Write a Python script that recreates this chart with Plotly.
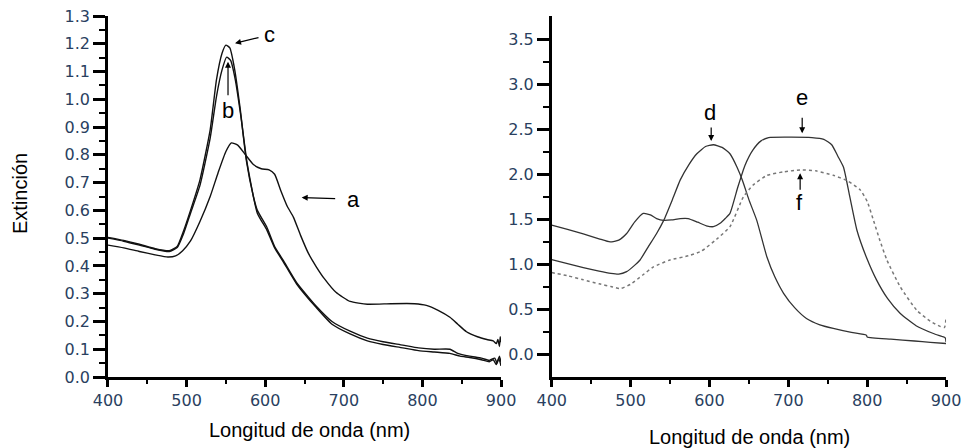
import plotly.graph_objects as go

# ---- Left panel (Extinción vs Longitud de onda) ----
a_x = [400, 420, 440, 460, 476, 486, 495, 505, 517, 530, 540, 550, 557, 565, 575, 585, 595, 605, 612,
       620, 628, 636, 645, 655, 665, 675, 690, 708, 730, 760, 790, 805, 820, 835, 845, 856, 870, 882,
       890, 894, 896, 898, 899, 900]
a_y = [0.475, 0.465, 0.452, 0.440, 0.432, 0.436, 0.455, 0.490, 0.560, 0.650, 0.735, 0.812, 0.843, 0.835,
       0.800, 0.765, 0.750, 0.746, 0.730, 0.670, 0.615, 0.575, 0.510, 0.445, 0.397, 0.355, 0.305, 0.272,
       0.262, 0.264, 0.264, 0.258, 0.240, 0.215, 0.190, 0.163, 0.145, 0.135, 0.130, 0.120, 0.135, 0.110,
       0.145, 0.125]

b_x = [400, 420, 440, 460, 478, 488, 496, 505, 517, 530, 538, 545, 551, 556, 562, 569, 577, 590, 602,
       612, 623, 640, 665, 685, 708, 730, 750, 775, 795, 815, 835, 848, 860, 875, 885, 890, 894, 897, 900]
b_y = [0.500, 0.489, 0.475, 0.460, 0.452, 0.466, 0.515, 0.590, 0.690, 0.860, 1.010, 1.105, 1.152, 1.140,
       1.070, 0.940, 0.770, 0.590, 0.530, 0.465, 0.415, 0.335, 0.250, 0.190, 0.155, 0.130, 0.117, 0.105,
       0.095, 0.090, 0.085, 0.075, 0.070, 0.062, 0.055, 0.062, 0.045, 0.068, 0.040]

c_x = [400, 420, 440, 460, 478, 488, 496, 505, 517, 530, 538, 545, 550, 555, 561, 568, 576, 585, 590,
       602, 612, 623, 640, 665, 685, 708, 730, 750, 775, 795, 815, 835, 845, 860, 875, 885, 892, 895, 898, 900]
c_y = [0.503, 0.492, 0.478, 0.462, 0.455, 0.470, 0.525, 0.600, 0.710, 0.890, 1.070, 1.165, 1.195, 1.185,
       1.110, 0.970, 0.780, 0.650, 0.600, 0.540, 0.470, 0.420, 0.340, 0.255, 0.200, 0.165, 0.140, 0.127,
       0.115, 0.105, 0.100, 0.100, 0.085, 0.075, 0.068, 0.060, 0.068, 0.050, 0.075, 0.052]

# ---- Right panel ----
d_x = [400, 420, 440, 460, 475, 485, 495, 505, 512, 522, 533, 542, 553, 563, 574, 584, 595, 605, 616,
       626, 635, 642, 650, 660, 673, 683, 694, 708, 723, 740, 757, 780, 799, 800, 830, 860, 880, 900]
d_y = [1.055, 1.010, 0.965, 0.925, 0.900, 0.892, 0.920, 0.990, 1.050, 1.190, 1.344, 1.490, 1.720, 1.940,
       2.110, 2.230, 2.310, 2.330, 2.300, 2.230, 2.080, 1.930, 1.720, 1.490, 1.080, 0.860, 0.680, 0.520,
       0.400, 0.330, 0.290, 0.245, 0.215, 0.195, 0.170, 0.150, 0.135, 0.122]

e_x = [400, 420, 440, 460, 474, 485, 495, 505, 516, 525, 533, 542, 552, 563, 573, 585, 596, 605, 614,
       620, 626, 636, 645, 655, 665, 675, 700, 730, 745, 755, 763, 770, 778, 787, 799, 812, 826, 842,
       862, 884, 895, 899, 900]
e_y = [1.437, 1.390, 1.340, 1.285, 1.250, 1.270, 1.344, 1.470, 1.567, 1.550, 1.510, 1.490, 1.495, 1.510,
       1.510, 1.470, 1.430, 1.420, 1.460, 1.510, 1.567, 1.860, 2.100, 2.270, 2.370, 2.410, 2.415, 2.410,
       2.390, 2.330, 2.200, 2.080, 1.750, 1.380, 1.080, 0.826, 0.620, 0.455, 0.320, 0.233, 0.200, 0.185,
       0.140]

f_x = [400, 420, 440, 460, 475, 487, 500, 515, 529, 550, 575, 590, 609, 626, 643, 655, 673, 695, 715,
       735, 757, 775, 791, 800, 808, 816, 825, 842, 863, 880, 893, 898, 900]
f_y = [0.910, 0.875, 0.830, 0.785, 0.755, 0.733, 0.780, 0.880, 0.973, 1.050, 1.100, 1.150, 1.280, 1.420,
       1.750, 1.880, 1.990, 2.030, 2.050, 2.040, 1.990, 1.930, 1.830, 1.700, 1.490, 1.270, 1.050, 0.750,
       0.490, 0.370, 0.310, 0.300, 0.400]

# ---- tick values ----
x_ticks = [400, 500, 600, 700, 800, 900]
x_minor = [450, 550, 650, 750, 850]
yl_ticks = [0.0, 0.1, 0.2, 0.3, 0.4, 0.5, 0.6, 0.7, 0.8, 0.9, 1.0, 1.1, 1.2, 1.3]
yl_labels = ["0.0", "0.1", "0.2", "0.3", "0.4", "0.5", "0.6", "0.7", "0.8", "0.9", "1.0", "1.1", "1.2", "1.3"]
yl_minor = [0.05, 0.15, 0.25, 0.35, 0.45, 0.55, 0.65, 0.75, 0.85, 0.95, 1.05, 1.15, 1.25]
yr_ticks = [0.0, 0.5, 1.0, 1.5, 2.0, 2.5, 3.0, 3.5]
yr_labels = ["0.0", "0.5", "1.0", "1.5", "2.0", "2.5", "3.0", "3.5"]
yr_minor = [0.25, 0.75, 1.25, 1.75, 2.25, 2.75, 3.25]

fig = go.Figure()
line_l = dict(color="#111111", width=1.4, shape="spline", smoothing=0.5)
for xs, ys in [(a_x, a_y), (b_x, b_y), (c_x, c_y)]:
    fig.add_trace(go.Scatter(x=xs, y=ys, mode="lines", line=line_l, xaxis="x", yaxis="y", showlegend=False))

line_r = dict(color="#333333", width=1.3, shape="spline", smoothing=0.5)
fig.add_trace(go.Scatter(x=d_x, y=d_y, mode="lines", line=line_r, xaxis="x2", yaxis="y2", showlegend=False))
fig.add_trace(go.Scatter(x=e_x, y=e_y, mode="lines", line=line_r, xaxis="x2", yaxis="y2", showlegend=False))
fig.add_trace(go.Scatter(x=f_x, y=f_y, mode="lines",
                         line=dict(color="#777777", width=1.5, dash="dot", shape="spline", smoothing=0.5),
                         xaxis="x2", yaxis="y2", showlegend=False))

tf = dict(family="DejaVu Sans", size=16)
XD1 = [0.1112, 0.516]
XD2 = [0.5682, 0.9743]


def mk_minor(vals, length):
    return dict(tickmode="array", tickvals=vals, ticklen=length, tickwidth=2, tickcolor="black",
                ticks="outside")


fig.update_layout(
    width=971, height=448,
    margin=dict(l=0, r=0, t=16, b=71),
    paper_bgcolor="white", plot_bgcolor="white",
    xaxis=dict(domain=XD1, anchor="y", range=[400, 900], tickvals=x_ticks, showline=True,
               linecolor="black", linewidth=2.5, ticks="outside", ticklen=7, tickwidth=2.5,
               tickcolor="black", tickfont=tf, automargin=False, minor=mk_minor(x_minor, 4)),
    xaxis2=dict(domain=XD2, anchor="y2", range=[400, 900], tickvals=x_ticks, showline=True,
                linecolor="black", linewidth=2.5, ticks="outside", ticklen=7, tickwidth=2.5,
                tickcolor="black", tickfont=tf, automargin=False, minor=mk_minor(x_minor, 4)),
    yaxis=dict(anchor="x", range=[0, 1.3], tickvals=yl_ticks, ticktext=yl_labels, showline=True,
               linecolor="black", linewidth=2.5, ticks="outside", ticklen=12, tickwidth=2.5,
               tickcolor="black", tickfont=tf, automargin=False, minor=mk_minor(yl_minor, 6)),
    yaxis2=dict(anchor="x2", range=[-0.25, 3.76], tickvals=yr_ticks, ticktext=yr_labels, showline=True,
                linecolor="black", linewidth=2.5, ticks="outside", ticklen=12, tickwidth=2.5,
                tickcolor="black", tickfont=tf, automargin=False, minor=mk_minor(yr_minor, 6)),
)

# axis titles
title_font = dict(family="Liberation Sans, Arial", size=20, color="black")
fig.add_annotation(text="Longitud de onda (nm)", xref="paper", yref="paper", x=0.319, y=-0.147,
                   showarrow=False, font=title_font, xanchor="center", yanchor="middle")
fig.add_annotation(text="Longitud de onda (nm)", xref="paper", yref="paper", x=0.772, y=-0.166,
                   showarrow=False, font=title_font, xanchor="center", yanchor="middle")
fig.add_annotation(text="Extinción", xref="paper", yref="paper", x=0.0206, y=0.507, textangle=-90,
                   showarrow=False, font=title_font, xanchor="center", yanchor="middle")

# curve labels: (axes, letter, text x, text y, arrow tip x, tip y, tail offset px)
lab_font = dict(family="Liberation Sans, Arial", size=22, color="black")
labels = [
    ("x", "y", "c", 606, 1.232, 561.6, 1.202, 25, -6),
    ("x", "y", "b", 552.7, 0.958, 552.7, 1.135, 0, 35),
    ("x", "y", "a", 712, 0.641, 646.4, 0.646, 35, 1),
    ("x2", "y2", "d", 600.9, 2.683, 602.2, 2.372, 0, -15),
    ("x2", "y2", "e", 717.6, 2.85, 717.6, 2.458, 0, -17),
    ("x2", "y2", "f", 714.5, 1.683, 715, 2.013, 0, 18),
]
for xr, yr, t, tx, ty, px, py, oax, oay in labels:
    fig.add_annotation(text=t, xref=xr, yref=yr, x=tx, y=ty, showarrow=False, font=lab_font,
                       xanchor="center", yanchor="middle")
    fig.add_annotation(text="", xref=xr, yref=yr, x=px, y=py, ax=oax, ay=oay,
                       showarrow=True, arrowhead=2, arrowsize=1, arrowwidth=1.2, arrowcolor="black")

fig.write_html("out.html")
